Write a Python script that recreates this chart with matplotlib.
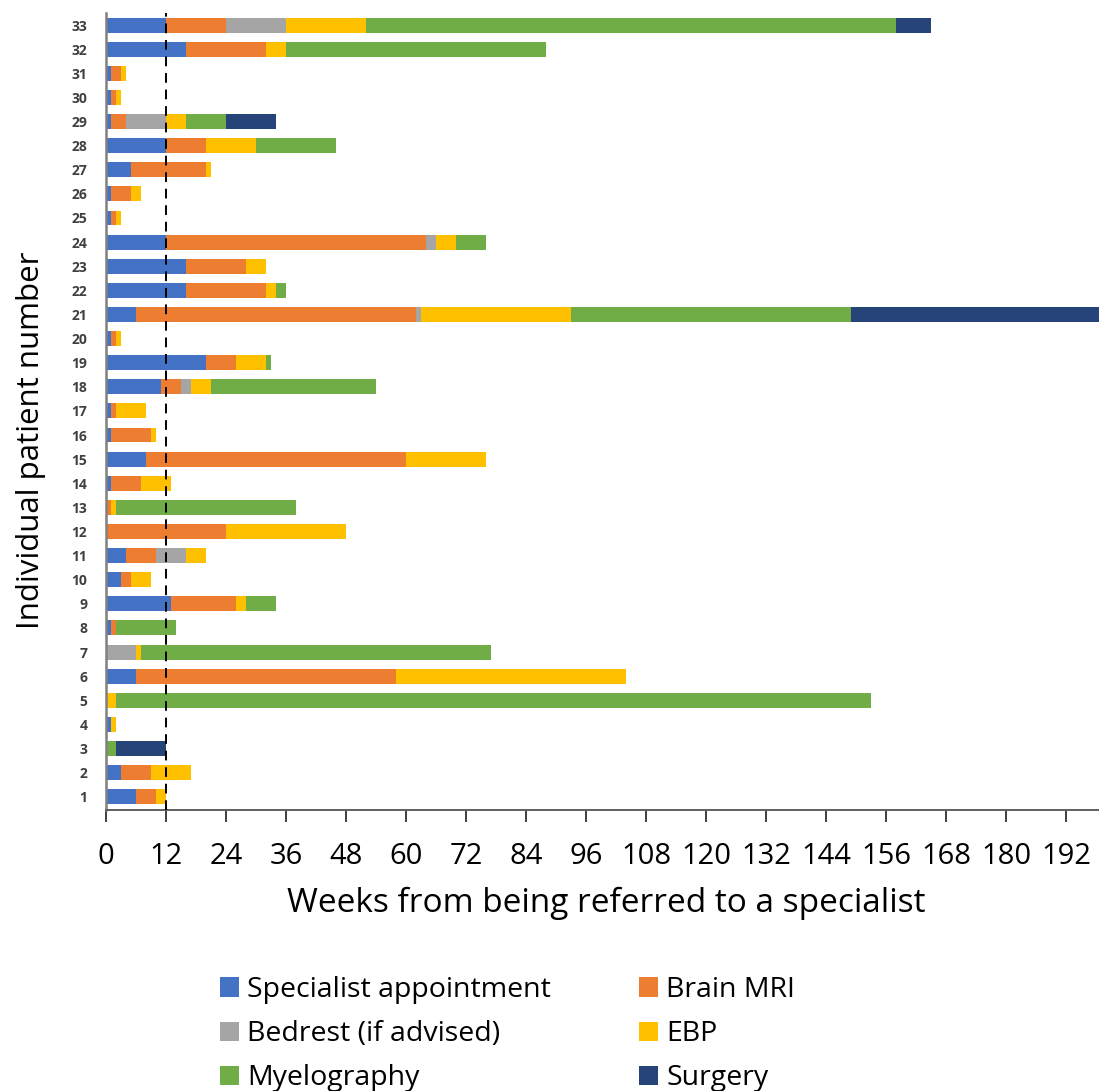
import matplotlib
matplotlib.use("Agg")
import matplotlib.pyplot as plt
import numpy as np
from matplotlib.patches import Patch

patients = list(range(1, 34))
categories = ["Specialist appointment", "Brain MRI", "Bedrest (if advised)", "EBP", "Myelography", "Surgery"]
colors = ["#4472C4", "#ED7D31", "#A5A5A5", "#FFC000", "#70AD47", "#264478"]

specialist = [6, 3, 0, 1, 0, 6, 0, 1, 13, 3, 4, 0, 0, 1, 8, 1, 1, 11, 20, 1, 6, 16, 16, 12, 1, 1, 5, 12, 1, 1, 1, 16, 12]
brain_mri = [4, 6, 0, 0, 0, 52, 0, 1, 13, 2, 6, 24, 1, 6, 52, 8, 1, 4, 6, 1, 56, 16, 12, 52, 1, 4, 15, 8, 3, 1, 2, 16, 12]
bedrest = [0, 0, 0, 0, 0, 0, 6, 0, 0, 0, 6, 0, 0, 0, 0, 0, 0, 2, 0, 0, 1, 0, 0, 2, 0, 0, 0, 0, 8, 0, 0, 0, 12]
ebp = [2, 8, 0, 1, 2, 46, 1, 0, 2, 4, 4, 24, 1, 6, 16, 1, 6, 4, 6, 1, 30, 2, 4, 4, 1, 2, 1, 10, 4, 1, 1, 4, 16]
myelography = [0, 0, 2, 0, 151, 0, 70, 12, 6, 0, 0, 0, 36, 0, 0, 0, 0, 33, 1, 0, 56, 2, 0, 6, 0, 0, 0, 16, 8, 0, 0, 52, 106]
surgery = [0, 0, 10, 0, 0, 0, 0, 0, 0, 0, 0, 0, 0, 0, 0, 0, 0, 0, 0, 0, 52, 0, 0, 0, 0, 0, 0, 0, 10, 0, 0, 0, 7]
x_ticks = list(range(0, 193, 12))
threshold = 12

series = [specialist, brain_mri, bedrest, ebp, myelography, surgery]

plt.rcParams['font.family'] = ['Open Sans', 'DejaVu Sans']

W, H = 1099, 1091
fig = plt.figure(figsize=(W / 100, H / 100), dpi=100)
ax_left, ax_bottom_px, ax_top_px = 106, 810, 13
ax = fig.add_axes([ax_left / W, 1 - ax_bottom_px / H, 1 - ax_left / W, (ax_bottom_px - ax_top_px) / H])

left = np.zeros(len(patients))
for vals, col, name in zip(series, colors, categories):
    v = np.array(vals, dtype=float)
    ax.barh(patients, v, left=left, height=0.62, color=col, label=name, linewidth=0)
    left += v

ax.axvline(threshold, color="black", linestyle=(0, (5, 3.5)), linewidth=1.4, zorder=5)

ax.set_xlim(0, 198.6)
ax.set_ylim(0.45, 33.5)
ax.set_yticks(patients)
ax.set_yticklabels([str(p) for p in patients], fontsize=10, color="#404040", fontweight="bold")
ax.tick_params(axis="y", length=0, pad=13.5)
ax.set_xticks(x_ticks)
ax.set_xticklabels([str(t) for t in x_ticks], fontsize=21, color="black")
ax.tick_params(axis="x", length=8.5, width=1.4, color="#404040", pad=14.5)

for s in ["top", "right"]:
    ax.spines[s].set_visible(False)
ax.spines["left"].set_color("#808080")
ax.spines["left"].set_linewidth(1.8)
ax.spines["bottom"].set_color("#606060")
ax.spines["bottom"].set_linewidth(1.4)

ax_h = ax_bottom_px - ax_top_px
ax.set_xlabel("Weeks from being referred to a specialist", fontsize=24)
ax.xaxis.set_label_coords(0.504, -(887 - ax_bottom_px) / ax_h)
ax.set_ylabel("Individual patient number", fontsize=22.5)
ax.yaxis.set_label_coords((46 - ax_left) / (W - ax_left), (ax_bottom_px - 440) / ax_h)

order = [0, 2, 4, 1, 3, 5]
handles = [Patch(facecolor=colors[i], edgecolor="none") for i in order]
labels = [categories[i] for i in order]
fig.legend(handles, labels, ncol=2, loc="upper left", bbox_to_anchor=(220 / W, 1 - 976 / H),
           frameon=False, fontsize=20.5, handlelength=0.65, handleheight=0.65,
           columnspacing=3.1, labelspacing=0.57, handletextpad=0.3,
           borderpad=0, borderaxespad=0)

fig.savefig("out.png", dpi=100)
